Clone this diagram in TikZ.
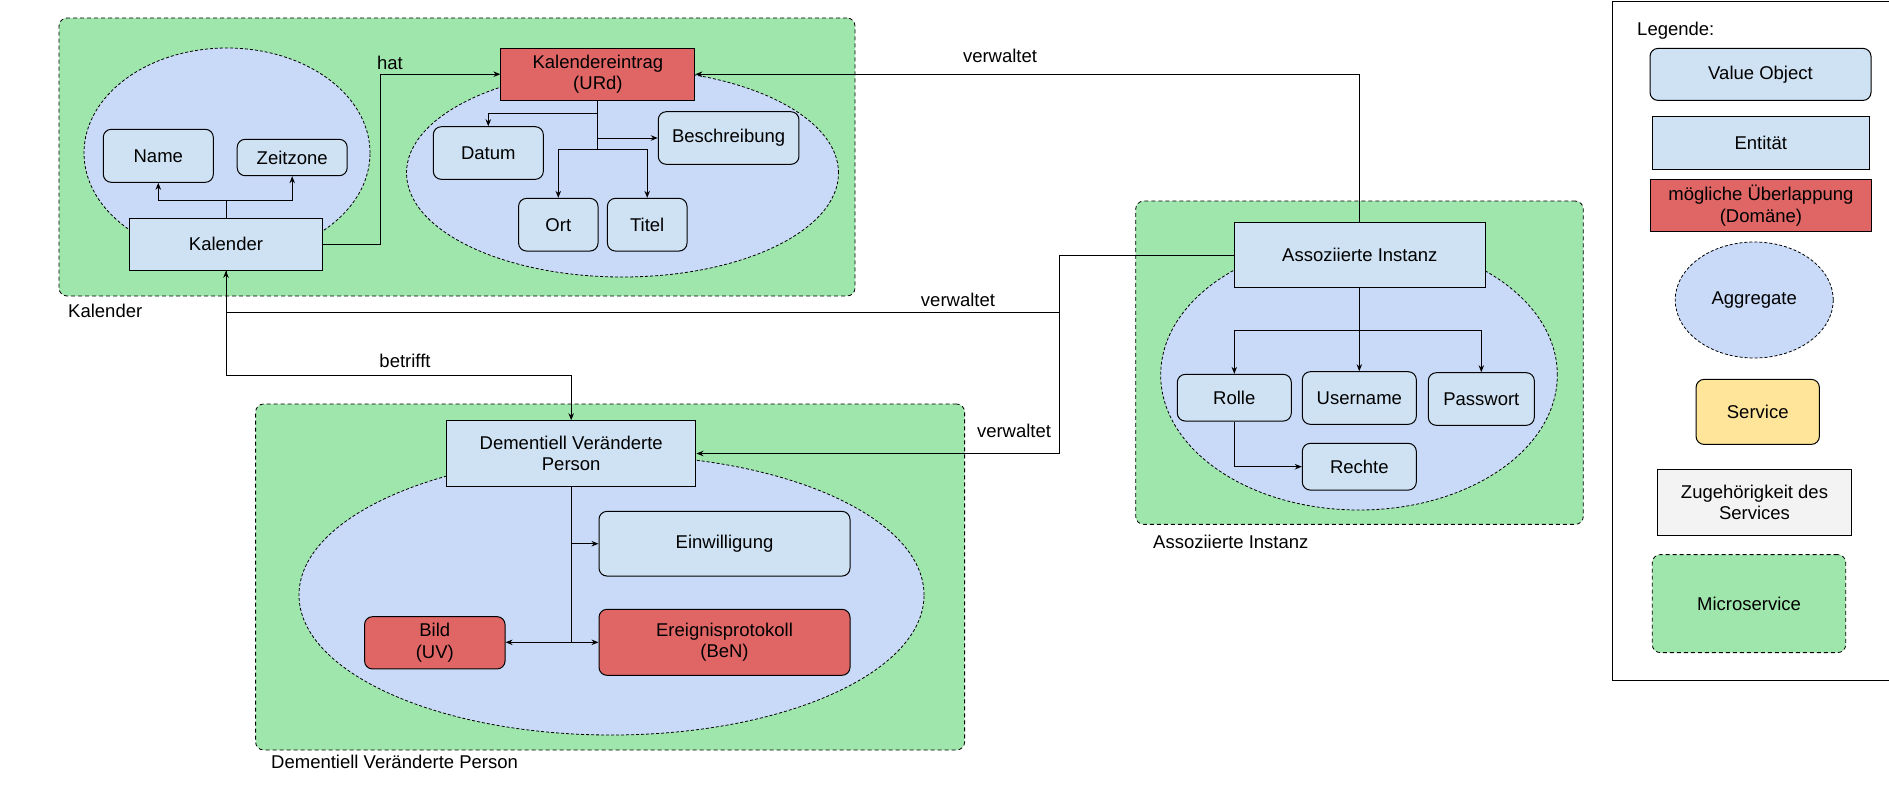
\documentclass[tikz,border=0pt]{standalone}
\usepackage{fontspec}
\setmainfont{Liberation Sans}
\usetikzlibrary{arrows.meta,shapes.geometric}
\definecolor{msgreen}{RGB}{159,230,172}
\definecolor{vofill}{RGB}{207,226,243}
\definecolor{aggfill}{RGB}{201,218,248}
\definecolor{redfill}{RGB}{224,102,102}
\definecolor{svcfill}{RGB}{255,229,153}
\definecolor{grayfill}{RGB}{243,243,243}
\begin{document}
\begin{tikzpicture}[x=1pt,y=-1pt,font=\fontsize{18.5}{21.7}\selectfont,
  box/.style={draw,line width=1pt,inner sep=0pt,align=center,anchor=center},
  vo/.style={box,fill=vofill,rounded corners=8pt},
  ent/.style={box,fill=vofill},
  dom/.style={box,fill=redfill},
  domr/.style={box,fill=redfill,rounded corners=8pt},
  svc/.style={box,fill=svcfill,rounded corners=8pt},
  grp/.style={box,fill=grayfill},
  agg/.style={ellipse,draw,line width=0.8pt,dash pattern=on 3pt off 2pt,fill=aggfill,inner sep=0pt},
  ms/.style={draw,line width=0.8pt,dash pattern=on 4pt off 3pt,fill=msgreen,rounded corners=8pt,inner sep=0pt},
  ln/.style={line width=1pt},
  arr/.style={ln,-{Stealth[length=7pt,width=5.5pt]}},
  lbl/.style={inner sep=0pt}]
\useasboundingbox (0,0) rectangle (1889,788);

% ---------- containers (microservices) ----------
\node[ms,minimum width=796pt,minimum height=278pt] (msKal) at (457,157) {};
\node[ms,minimum width=709pt,minimum height=346pt] (msDvp) at (610.1,577) {};
\node[ms,minimum width=447.6pt,minimum height=323.3pt] (msAi) at (1359.5,362.7) {};
\node[lbl,anchor=west] (lKal) at (68,311) {Kalender};
\node[lbl,anchor=west] (lDvp) at (271,762) {Dementiell Veränderte Person};
\node[lbl,anchor=west] (lAi) at (1153,542) {Assoziierte Instanz};

% ---------- aggregates ----------
\node[agg,minimum width=286pt,minimum height=210pt] (aggKal) at (227,153) {};
\node[agg,minimum width=432pt,minimum height=208pt] (aggKe) at (622.5,173) {};
\node[agg,minimum width=625pt,minimum height=280pt] (aggDvp) at (611.5,595) {};
\node[agg,minimum width=396.6pt,minimum height=270pt] (aggAi) at (1359,375) {};

% ---------- Kalender ----------
\node[vo,minimum width=110pt,minimum height=53pt] (name) at (158.3,155.8) {Name};
\node[vo,minimum width=110pt,minimum height=36.4pt] (zeit) at (292.2,157.5) {Zeitzone};
\node[ent,minimum width=193pt,minimum height=52pt] (kal) at (226,244.3) {Kalender};
\node[dom,minimum width=194pt,minimum height=52pt] (ke) at (597.9,74.2) {Kalendereintrag\\(URd)};
\node[vo,minimum width=110pt,minimum height=52.6pt] (datum) at (488.3,153) {Datum};
\node[vo,minimum width=140.7pt,minimum height=52.6pt] (besch) at (728.6,138) {Beschreibung};
\node[vo,minimum width=79.4pt,minimum height=52.7pt] (ort) at (558.3,224.7) {Ort};
\node[vo,minimum width=79.6pt,minimum height=52.7pt] (titel) at (647.2,224.7) {Titel};

% ---------- DVP ----------
\node[ent,minimum width=249.5pt,minimum height=65.6pt] (dvp) at (571.2,453.5) {Dementiell Veränderte\\Person};
\node[vo,minimum width=251pt,minimum height=64.7pt] (einw) at (724.5,543.7) {Einwilligung};
\node[domr,minimum width=140.5pt,minimum height=52.3pt] (bild) at (434.8,642.8) {Bild\\(UV)};
\node[domr,minimum width=251pt,minimum height=66pt] (ereig) at (724.5,642.3) {Ereignisprotokoll\\(BeN)};

% ---------- Assoziierte Instanz ----------
\node[ent,minimum width=251pt,minimum height=64.6pt] (ai) at (1359.8,255) {Assoziierte Instanz};
\node[vo,minimum width=114pt,minimum height=46.7pt] (rolle) at (1234.3,397.7) {Rolle};
\node[vo,minimum width=114pt,minimum height=52.6pt] (user) at (1359.3,398) {Username};
\node[vo,minimum width=106pt,minimum height=52.6pt] (pass) at (1481.3,399) {Passwort};
\node[vo,minimum width=114pt,minimum height=46.7pt] (rechte) at (1359.3,466.7) {Rechte};

% ---------- connectors inside ----------
\coordinate (kb) at (226,200);
\draw[ln] (kal.north) -- (kb);
\draw[arr] (kb) -| (name.south);
\draw[arr] (kb) -| (zeit.south);

\coordinate (ke1) at (597.9,113.3);
\coordinate (ke2) at (597.9,138);
\coordinate (ke3) at (597.9,149.3);
\draw[ln] (ke.south) -- (ke3);
\draw[arr] (ke1) -| (datum.north);
\draw[arr] (ke2) -- (besch.west);
\draw[arr] (ke3) -| (ort.north);
\draw[arr] (ke3) -| (titel.north);

\coordinate (dv1) at (571.2,543.7);
\coordinate (dv2) at (571.2,642.3);
\draw[ln] (dvp.south) -- (dv2);
\draw[arr] (dv1) -- (einw.west);
\draw[arr] (dv2) -- (bild.east |- dv2);
\draw[arr] (dv2) -- (ereig.west);

\coordinate (ai1) at (1359.8,330);
\draw[ln] (ai.south) -- (ai1);
\draw[arr] (ai1) -| (rolle.north);
\draw[arr] (ai1) -| (user.north);
\draw[arr] (ai1) -| (pass.north);
\draw[arr] (rolle.south) |- (rechte.west);

% ---------- connectors between services ----------
\coordinate (h1) at (380,244.3);
\draw[arr] (kal.east) -- (h1) |- (ke.west);
\node[lbl] (lhat) at (390,62.6) {hat};

\draw[arr] (ai.north) |- (ke.east);
\node[lbl] (lv1) at (1000,55.4) {verwaltet};

\coordinate (v1) at (1059.5,255);
\coordinate (v2) at (1059.5,312.3);
\draw[arr] (ai.west) -- (v1) -- (v2) -| (kal.south);
\node[lbl] (lv2) at (958,300) {verwaltet};

\draw[arr] (v2) |- (dvp.east);
\node[lbl] (lv3) at (1014,431) {verwaltet};

\coordinate (b1) at (226,375.9);
\draw[arr] (kal.south) -- (b1) -| (dvp.north);
\node[lbl] (lbt) at (405,361) {betrifft};

% ---------- legend ----------
\node[draw,line width=1pt,minimum width=288pt,minimum height=679pt,inner sep=0pt] (legend) at (1756,340.5) {};
\node[lbl,anchor=west] (lleg) at (1637,31) {Legende:};
\node[vo,minimum width=221pt,minimum height=52pt] (lgvo) at (1760.5,74.4) {Value Object};
\node[ent,minimum width=217pt,minimum height=52.8pt] (lgent) at (1760.8,143) {Entität};
\node[dom,minimum width=221.7pt,minimum height=52.4pt] (lgdom) at (1760.9,205.7) {mögliche Überlappung\\(Domäne)};
\node[agg,minimum width=158pt,minimum height=116pt] (lgagg) at (1754.2,300) {Aggregate};
\node[svc,minimum width=123.3pt,minimum height=65pt] (lgsvc) at (1757.7,411.9) {Service};
\node[grp,minimum width=194.4pt,minimum height=66pt] (lggrp) at (1754.5,502.5) {Zugehörigkeit des\\Services};
\node[ms,minimum width=193.4pt,minimum height=98pt,align=center] (lgms) at (1749,603.6) {Microservice};
\end{tikzpicture}
\end{document}
